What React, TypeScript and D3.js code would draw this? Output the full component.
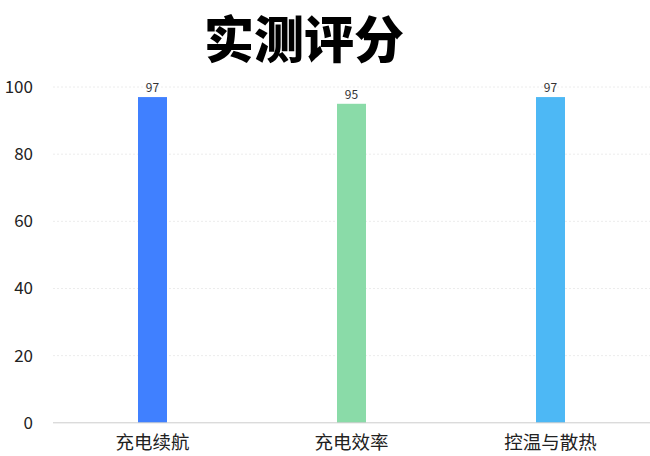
import React from "react";
import * as d3 from "d3";

const categories = ["充电续航", "充电效率", "控温与散热"];
const values = [97, 95, 97];
const colors = ["#4080ff", "#8adba8", "#4db8f5"];
const yTicks = [0, 20, 40, 60, 80, 100];

const W = 650;
const H = 456;
const M = { left: 53, right: 0, top: 87, bottom: 33 };

export default function App() {
  const x = d3
    .scaleBand<string>()
    .domain(categories)
    .range([M.left, W - M.right])
    .paddingInner(0)
    .paddingOuter(0);
  const y = d3.scaleLinear().domain([0, 100]).range([H - M.bottom - 0.2, M.top]);
  const bw = 29;
  const font = "'Noto Sans CJK SC', 'Noto Sans', sans-serif";
  return (
    <svg
      width={W}
      height={H}
      style={{ position: "absolute", left: 0, top: 0, background: "#fff" }}
      fontFamily={font}
    >
      <text
        x={304}
        y={58}
        textAnchor="middle"
        fontSize={50}
        fontWeight={900}
        fill="#000"
      >
        实测评分
      </text>
      {yTicks.map((t) => (
        <g key={t}>
          {t > 0 && (
            <line
              x1={M.left}
              x2={W}
              y1={y(t)}
              y2={y(t)}
              stroke="#ececec"
              strokeDasharray="2,2"
            />
          )}
          <text
            x={33}
            y={y(t)}
            dy="0.35em"
            textAnchor="end"
            fontSize={17}
            fill="#222"
          >
            {t}
          </text>
        </g>
      ))}
      {categories.map((c, i) => {
        const cx = (x(c) as number) + x.bandwidth() / 2;
        return (
          <g key={c}>
            <rect
              x={cx - bw / 2}
              y={y(values[i])}
              width={bw}
              height={y(0) - y(values[i])}
              fill={colors[i]}
            />
            <text
              x={cx}
              y={y(values[i]) - 5}
              textAnchor="middle"
              fontSize={12}
              fill="#333"
            >
              {values[i]}
            </text>
            <text
              x={cx}
              y={449}
              textAnchor="middle"
              fontSize={18.5}
              fill="#222"
            >
              {c}
            </text>
          </g>
        );
      })}
      <line
        x1={M.left}
        x2={W}
        y1={y(0)}
        y2={y(0)}
        stroke="#cccccc"
        strokeWidth={1}
      />
    </svg>
  );
}
